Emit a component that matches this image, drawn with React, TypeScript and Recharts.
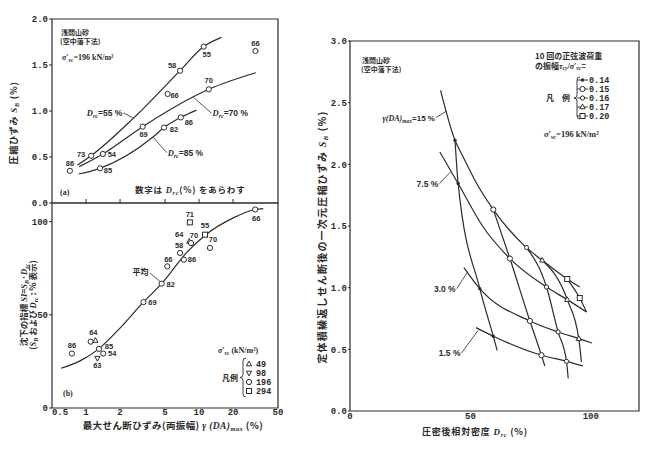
import React from 'react';
import { ComposedChart, Line, Scatter, XAxis, YAxis, ReferenceArea, ReferenceLine, ReferenceDot } from 'recharts';

const INK = '#2b2b2b';
const NUM = '"Liberation Mono", "DejaVu Sans Mono", monospace';
const SANS = '"Liberation Sans", "DejaVu Sans", sans-serif';
const SERIF = '"Liberation Serif", "DejaVu Serif", serif';
const JP = '"Noto Sans CJK JP", "Noto Sans", sans-serif';

// ================= Panel (a): S_B vs gamma(DA)max =================
const aGamma = [0.72, 1.11, 1.41, 1.33, 3.17, 5.27, 4.9, 6.9, 6.8, 11.0, 12.2, 31.6];
const aSb = [0.35, 0.514, 0.533, 0.377, 0.83, 1.185, 0.82, 0.93, 1.438, 1.7, 1.236, 1.652];
const aDrc = [86, 73, 54, 85, 69, 66, 82, 86, 58, 55, 70, 66];
const aLabelOffset = [[0, -8], [-10, -1], [9, 0], [8, 2], [1, 8], [7, 1], [10, 2], [8, 5], [-8, -5], [3, 8], [0, -9], [0, -8]];

const aCurveDrc = [55, 70, 85];
const aCurve55X = [0.84, 1.11, 2.62, 6.8, 11.0, 15.8];
const aCurve55Y = [0.413, 0.514, 0.92, 1.438, 1.7, 1.8];
const aCurve70X = [0.87, 1.41, 3.17, 8.9, 12.2, 31.8];
const aCurve70Y = [0.395, 0.533, 0.83, 1.155, 1.236, 1.416];
const aCurve85X = [0.86, 1.33, 3.94, 4.9, 6.9, 9.5];
const aCurve85Y = [0.315, 0.377, 0.72, 0.82, 0.93, 1.01];
const aLeaderFromX = [2.14, 12.9, 5.17];
const aLeaderFromY = [0.98, 0.975, 0.547];
const aLeaderToX = [2.65, 8.9, 3.94];
const aLeaderToY = [0.92, 1.15, 0.714];
const aLabelSide = ['end', 'start', 'start'];
const aYTicks = [0, 0.5, 1, 1.5, 2];

const gammaTicks = [0.5, 1, 2, 5, 10, 20, 50];
const gammaInnerTicks = [1, 2, 5, 10, 20];

// ================= Panel (b): SI vs gamma(DA)max =================
const bGamma = [0.75, 1.1, 1.21, 1.3, 1.42, 1.26, 3.22, 4.67, 5.24, 6.8, 7.35, 8.2, 8.5, 8.3, 11.3, 12.5, 31.4];
const bSI = [29.2, 35.6, 36.2, 31.7, 29.2, 26.7, 56.8, 66.7, 76, 83.2, 79.6, 89.4, 88.5, 99.6, 93, 85.9, 106.5];
const bDrc = [86, null, 64, 85, 54, 63, 69, 82, 66, 58, 86, 64, 70, 71, 55, 70, 66];
const bStress = [196, 196, 49, 196, 196, 98, 196, 196, 196, 196, 196, 49, 196, 294, 294, 196, 196];
const bLabelOffset = [[0, -8], [0, 0], [-2, -8], [10, -3], [9, 0], [0, 7], [9, 0], [9, 1], [1, -7], [-1, -8], [8, 0], [-10, -7], [3, -8], [0, -8], [0, -9], [3, -9], [1, 9]];
const bAvgX = [0.6, 0.885, 1.29, 1.93, 3.22, 4.67, 7.8, 11.5, 20.1, 31.4, 37];
const bAvgY = [21.3, 25.3, 31.6, 41.9, 56.8, 66.7, 83.5, 93, 102, 106.5, 107];
const bAvgLeader = [3.68, 72.4, 4.51, 67.9];
const bLegendStress = [49, 98, 196, 294];
const bLegendKinds = ['triangle', 'triangleDown', 'circle', 'square'];
const bYTicks = [0, 50, 100];

// ================= Right panel: S_B vs Drc =================
const rGammaLevels = ['15', '7.5', '3.0', '1.5'];
const rG15X = [37.6, 43.6, 47.0, 52.6, 59.5, 73.3, 79.8, 90.2, 95.4];
const rG15Y = [2.6, 2.195, 2.06, 1.844, 1.633, 1.325, 1.222, 1.07, 1.005];
const rG75X = [37.3, 44.9, 55.3, 66.4, 81.6, 90.2, 98.2];
const rG75Y = [2.1, 1.844, 1.492, 1.236, 1.005, 0.903, 0.803];
const rG30X = [47.3, 53.9, 74.7, 86.4, 95.0, 100.5];
const rG30Y = [1.163, 0.992, 0.73, 0.641, 0.587, 0.551];
const rG15pX = [52.3, 59.5, 79.5, 89.9, 96.8];
const rG15pY = [0.676, 0.606, 0.452, 0.403, 0.365];
const rLeaderFromX = [35.7, 37.1, 44.3, 46.3];
const rLeaderFromY = [2.379, 1.844, 0.992, 0.47];
const rLeaderToX = [40.1, 41.8, 48.6, 53.2];
const rLeaderToY = [2.432, 1.94, 1.12, 0.654];

const rAmpLevels = ['0.14', '0.15', '0.16', '0.17', '0.20'];
const rAmp014X = [43.6, 44.9, 53.9, 59.5];
const rAmp014Y = [2.195, 1.844, 0.992, 0.606];
const rAmp015X = [59.5, 66.4, 74.7, 79.5];
const rAmp015Y = [1.633, 1.236, 0.73, 0.452];
const rAmp016X = [73.3, 81.6, 86.4, 89.9];
const rAmp016Y = [1.325, 1.005, 0.641, 0.403];
const rAmp017X = [79.8, 90.2, 95.0];
const rAmp017Y = [1.222, 0.903, 0.587];
const rAmp020X = [90.2, 95.4];
const rAmp020Y = [1.07, 0.916];
const rAmpEndX = [61.1, 80.9, 90.6, 96.1, 98.2];
const rAmpEndY = [0.492, 0.365, 0.263, 0.397, 0.803];
const rAmpKinds = ['dot', 'circle', 'smallCircle', 'triangle', 'square'];
const rXTicks = [0, 50, 100];
const rYTicks = [0, 0.5, 1, 1.5, 2, 2.5, 3];

const toRows = (xs: number[], ys: number[]) => xs.map((x, i) => ({ x, y: ys[i], i }));

function Mk({ kind, cx, cy }: any) {
  const sw = 1;
  if (kind === 'dot') return <circle cx={cx} cy={cy} r={1.7} fill={INK} />;
  if (kind === 'circle') return <circle cx={cx} cy={cy} r={2.6} fill="#fff" stroke={INK} strokeWidth={sw} />;
  if (kind === 'smallCircle') return <circle cx={cx} cy={cy} r={2.1} fill="#fff" stroke={INK} strokeWidth={sw} />;
  if (kind === 'triangle')
    return <polygon points={`${cx},${cy - 2.9} ${cx - 2.6},${cy + 1.8} ${cx + 2.6},${cy + 1.8}`} fill="#fff" stroke={INK} strokeWidth={sw} />;
  if (kind === 'triangleDown')
    return <polygon points={`${cx},${cy + 2.9} ${cx - 2.6},${cy - 1.8} ${cx + 2.6},${cy - 1.8}`} fill="#fff" stroke={INK} strokeWidth={sw} />;
  return <rect x={cx - 2.5} y={cy - 2.5} width={5} height={5} fill="#fff" stroke={INK} strokeWidth={sw} />;
}

const ptText = { fontFamily: SANS, fontSize: 7.5, fontWeight: 700, fill: INK } as any;
const tickStyle = { fontFamily: NUM, fontSize: 9, fill: INK, fontWeight: 700 } as any;

// x tick of panel (b): the first label sits a little right of the corner, as in the original
function BXTick({ x, y, payload }: any) {
  const shift = payload.value === gammaTicks[0] ? 8 : 0;
  return (
    <text x={x + shift} y={y + 6} textAnchor="middle" {...tickStyle}>{String(payload.value)}</text>
  );
}

function DLabel({ cx, cy, anchor, drc }: any) {
  const dx = anchor === 'end' ? -1 : 1;
  return (
    <text x={cx + dx} y={cy + 3} textAnchor={anchor} fontFamily={SANS} fontSize={8.5} fontWeight={700} fill={INK}>
      <tspan fontFamily={SERIF} fontStyle="italic">D</tspan>
      <tspan fontFamily={SERIF} fontStyle="italic" fontSize={6} dy={2}>rc</tspan>
      <tspan dy={-2}>{`=${drc} %`}</tspan>
    </text>
  );
}

function PanelA() {
  const pts = toRows(aGamma, aSb);
  const curves = [toRows(aCurve55X, aCurve55Y), toRows(aCurve70X, aCurve70Y), toRows(aCurve85X, aCurve85Y)];
  return (
    <ComposedChart width={300} height={212} margin={{ top: 19, right: 22, bottom: 9, left: 18 }}>
      <XAxis dataKey="x" type="number" scale="log" domain={[0.5, 50]} allowDataOverflow ticks={gammaInnerTicks}
        mirror tickFormatter={() => ''} tickSize={4} axisLine={false} stroke={INK} />
      <YAxis dataKey="y" type="number" domain={[0, 2]} allowDataOverflow ticks={aYTicks} width={34} tickSize={3}
        tickMargin={1} axisLine={false} stroke={INK} tickFormatter={(v: number) => v.toFixed(1)} tick={tickStyle} />
      <ReferenceArea x1={0.5} x2={50} y1={0} y2={2} fill="none" fillOpacity={0} stroke={INK} strokeWidth={1.2} strokeOpacity={1} />
      {curves.map((c, k) => (
        <Line key={'c' + k} data={c} dataKey="y" type="monotone" dot={false} activeDot={false} stroke={INK} strokeWidth={1.2} isAnimationActive={false} />
      ))}
      {aLeaderFromX.map((x, k) => (
        <ReferenceLine key={'l' + k} segment={[{ x, y: aLeaderFromY[k] }, { x: aLeaderToX[k], y: aLeaderToY[k] }]} stroke={INK} strokeWidth={0.8} />
      ))}
      {aLeaderFromX.map((x, k) => (
        <ReferenceDot key={'t' + k} x={x} y={aLeaderFromY[k]} r={0}
          shape={(p: any) => <DLabel cx={p.cx} cy={p.cy} anchor={aLabelSide[k]} drc={aCurveDrc[k]} />} />
      ))}
      <Scatter data={pts} dataKey="y" isAnimationActive={false}
        shape={(p: any) => {
          const i = p.payload.i;
          return (
            <g>
              <Mk kind="circle" cx={p.cx} cy={p.cy} />
              <text x={p.cx + aLabelOffset[i][0]} y={p.cy + aLabelOffset[i][1] + 2.7} textAnchor="middle" {...ptText}>{aDrc[i]}</text>
            </g>
          );
        }} />
    </ComposedChart>
  );
}

function PanelB() {
  const pts = toRows(bGamma, bSI);
  const avg = toRows(bAvgX, bAvgY);
  const kindOf = (s: number) => bLegendKinds[bLegendStress.indexOf(s)];
  return (
    <ComposedChart width={300} height={254} margin={{ top: 8, right: 22, bottom: 23, left: 18 }}>
      <XAxis dataKey="x" type="number" scale="log" domain={[0.5, 50]} allowDataOverflow ticks={gammaTicks} height={18}
        tickLine={false} tickSize={0} tickMargin={1} axisLine={false} tick={<BXTick />} />
      <YAxis dataKey="y" type="number" domain={[0, 110]} allowDataOverflow ticks={bYTicks} width={34} tickSize={3}
        tickMargin={1} axisLine={false} stroke={INK} tick={tickStyle} />
      <ReferenceArea x1={0.5} x2={50} y1={0} y2={110} fill="none" fillOpacity={0} stroke={INK} strokeWidth={1.2} strokeOpacity={1} />
      <Line data={avg} dataKey="y" type="monotone" dot={false} activeDot={false} stroke={INK} strokeWidth={1.2} isAnimationActive={false} />
      <ReferenceLine segment={[{ x: bAvgLeader[0], y: bAvgLeader[1] }, { x: bAvgLeader[2], y: bAvgLeader[3] }]} stroke={INK} strokeWidth={0.8} />
      <ReferenceDot x={bAvgLeader[0]} y={bAvgLeader[1]} r={0}
        shape={(p: any) => (
          <text x={p.cx - 1.5} y={p.cy + 2} textAnchor="end" fontFamily={JP} fontSize={8} fontWeight={700} fill={INK}>平均</text>
        )} />
      <Scatter data={pts} dataKey="y" isAnimationActive={false}
        shape={(p: any) => {
          const i = p.payload.i;
          return (
            <g>
              <Mk kind={kindOf(bStress[i])} cx={p.cx} cy={p.cy} />
              {bDrc[i] != null && (
                <text x={p.cx + bLabelOffset[i][0]} y={p.cy + bLabelOffset[i][1] + 2.7} textAnchor="middle" {...ptText}>{bDrc[i]}</text>
              )}
            </g>
          );
        }} />
    </ComposedChart>
  );
}

function GammaLabel({ cx, cy, k }: any) {
  if (k === 0) {
    return (
      <text x={cx - 1} y={cy + 3} textAnchor="end" fontFamily={SANS} fontSize={8} fontWeight={700} fill={INK}>
        <tspan fontFamily={SERIF} fontStyle="italic">γ(DA)</tspan>
        <tspan fontFamily={SERIF} fontStyle="italic" fontSize={5.5} dy={2}>max</tspan>
        <tspan dy={-2}>{`=${rGammaLevels[k]} %`}</tspan>
      </text>
    );
  }
  return (
    <text x={cx - 1} y={cy + 3} textAnchor="end" fontFamily={SANS} fontSize={8.5} fontWeight={700} fill={INK}>
      {`${rGammaLevels[k]} %`}
    </text>
  );
}

function PanelR() {
  const gammaCurves = [toRows(rG15X, rG15Y), toRows(rG75X, rG75Y), toRows(rG30X, rG30Y), toRows(rG15pX, rG15pY)];
  const ampX = [rAmp014X, rAmp015X, rAmp016X, rAmp017X, rAmp020X];
  const ampY = [rAmp014Y, rAmp015Y, rAmp016Y, rAmp017Y, rAmp020Y];
  const ampMarks = ampX.map((xs, k) => toRows(xs, ampY[k]));
  const ampLines = ampX.map((xs, k) => toRows([...xs, rAmpEndX[k]], [...ampY[k], rAmpEndY[k]]));
  return (
    <ComposedChart width={348} height={429} margin={{ top: 21, right: 9, bottom: 20, left: 20 }}>
      <XAxis dataKey="x" type="number" domain={[0, 120]} allowDataOverflow ticks={rXTicks} height={18}
        tickLine={false} tickSize={0} tickMargin={2} axisLine={false} stroke={INK} tick={tickStyle} />
      <YAxis dataKey="y" type="number" domain={[0, 3]} allowDataOverflow ticks={rYTicks} width={30} tickSize={2}
        tickMargin={1} axisLine={false} stroke={INK} tick={tickStyle} tickFormatter={(v: number) => v.toFixed(1)} />
      <ReferenceArea x1={0} x2={120} y1={0} y2={3} fill="none" fillOpacity={0} stroke={INK} strokeWidth={1.2} strokeOpacity={1} />
      {gammaCurves.map((c, k) => (
        <Line key={'g' + k} data={c} dataKey="y" type="monotone" dot={false} activeDot={false} stroke={INK} strokeWidth={1.2} isAnimationActive={false} />
      ))}
      {ampLines.map((c, k) => (
        <Line key={'a' + k} data={c} dataKey="y" type="monotone" dot={false} activeDot={false} stroke={INK} strokeWidth={1.2} isAnimationActive={false} />
      ))}
      {rLeaderFromX.map((x, k) => (
        <ReferenceLine key={'rl' + k} segment={[{ x, y: rLeaderFromY[k] }, { x: rLeaderToX[k], y: rLeaderToY[k] }]} stroke={INK} strokeWidth={0.8} />
      ))}
      {rLeaderFromX.map((x, k) => (
        <ReferenceDot key={'rt' + k} x={x} y={rLeaderFromY[k]} r={0} shape={(p: any) => <GammaLabel cx={p.cx} cy={p.cy} k={k} />} />
      ))}
      {ampMarks.map((m, k) => (
        <Scatter key={'m' + k} data={m} dataKey="y" isAnimationActive={false}
          shape={(p: any) => <Mk kind={rAmpKinds[k]} cx={p.cx} cy={p.cy} />} />
      ))}
    </ComposedChart>
  );
}

function Brace({ x, y1, y2 }: any) {
  const m = (y1 + y2) / 2;
  return (
    <path d={`M${x + 3},${y1} Q${x},${y1} ${x},${y1 + 3} L${x},${m - 3} Q${x},${m} ${x - 3},${m} Q${x},${m} ${x},${m + 3} L${x},${y2 - 3} Q${x},${y2} ${x + 3},${y2}`}
      fill="none" stroke={INK} strokeWidth={0.9} />
  );
}

function SigmaVc({ fs }: any) {
  return (
    <>
      <tspan fontFamily={SERIF} fontStyle="italic">σ′</tspan>
      <tspan fontFamily={SERIF} fontStyle="italic" fontSize={fs * 0.68} dy={2}>vc</tspan>
    </>
  );
}

function Overlay() {
  const jp = { fontFamily: JP, fill: INK, fontWeight: 700 } as any;
  const legY = [80, 89, 98, 107, 116];
  const bLegY = [364, 373, 382, 391];
  return (
    <svg width={648} height={449} style={{ position: 'absolute', left: 0, top: 0, pointerEvents: 'none' }}>
      {/* panel (a) */}
      <text x={61} y={35} fontSize={7} {...jp}>浅間山砂</text>
      <text x={60} y={44} fontSize={7} {...jp}>(空中落下法)</text>
      <text x={62} y={60} fontSize={8} fontFamily={SERIF} fill={INK} fontWeight={700}>
        <SigmaVc fs={8} />
        <tspan dy={-2}>=196 kN/m²</tspan>
      </text>
      <text x={60} y={195} fontSize={8} fontFamily={SERIF} fill={INK} fontWeight={700}>(a)</text>
      <text x={135} y={193} fontSize={8.5} letterSpacing={0.8} {...jp}>
        数字は <tspan fontFamily={SERIF} fontStyle="italic">D</tspan>
        <tspan fontFamily={SERIF} fontStyle="italic" fontSize={6} dy={2}>rc</tspan>
        <tspan dy={-2}>(%) をあらわす</tspan>
      </text>
      <text transform="translate(17,123) rotate(-90)" textAnchor="middle" fontSize={9} letterSpacing={0.8} {...jp}>
        圧縮ひずみ <tspan fontFamily={SERIF} fontStyle="italic">S</tspan>
        <tspan fontFamily={SERIF} fontStyle="italic" fontSize={6} dy={2}>B</tspan>
        <tspan dy={-2}> (%)</tspan>
      </text>

      {/* panel (b) */}
      <text x={63} y={396} fontSize={8} fontFamily={SERIF} fill={INK} fontWeight={700}>(b)</text>
      <text x={218} y={353} fontSize={8} fontFamily={SERIF} fill={INK} fontWeight={700}>
        <SigmaVc fs={8} />
        <tspan dy={-2}> (kN/m²)</tspan>
      </text>
      <text x={222} y={381} fontSize={8} {...jp}>凡例</text>
      <Brace x={243} y1={358} y2={397} />
      {bLegendStress.map((s, k) => (
        <g key={'bl' + k}>
          <Mk kind={bLegendKinds[k]} cx={249} cy={bLegY[k]} />
          <text x={256} y={bLegY[k] + 3} fontFamily={NUM} fontSize={8.5} fontWeight={700} fill={INK}>{s}</text>
        </g>
      ))}
      <text x={173} y={429} textAnchor="middle" fontSize={9.5} letterSpacing={0.4} {...jp}>
        最大せん断ひずみ(両振幅) <tspan fontFamily={SERIF} fontStyle="italic">γ (DA)</tspan>
        <tspan fontFamily={SERIF} fontStyle="italic" fontSize={6.5} dy={2}>max</tspan>
        <tspan dy={-2}> (%)</tspan>
      </text>
      <text transform="translate(27,305) rotate(-90)" textAnchor="middle" fontSize={8.5} {...jp}>
        沈下の指標 <tspan fontFamily={SERIF} fontStyle="italic">SI</tspan>=<tspan fontFamily={SERIF} fontStyle="italic">S</tspan>
        <tspan fontFamily={SERIF} fontStyle="italic" fontSize={6} dy={2}>B</tspan>
        <tspan dy={-2}>·</tspan><tspan fontFamily={SERIF} fontStyle="italic">D</tspan>
        <tspan fontFamily={SERIF} fontStyle="italic" fontSize={6} dy={2}>rc</tspan>
      </text>
      <text transform="translate(36,305) rotate(-90)" textAnchor="middle" fontSize={8.5} {...jp}>
        (<tspan fontFamily={SERIF} fontStyle="italic">S</tspan>
        <tspan fontFamily={SERIF} fontStyle="italic" fontSize={6} dy={2}>B</tspan>
        <tspan dy={-2}> および </tspan><tspan fontFamily={SERIF} fontStyle="italic">D</tspan>
        <tspan fontFamily={SERIF} fontStyle="italic" fontSize={6} dy={2}>rc</tspan>
        <tspan dy={-2}> : % 表示)</tspan>
      </text>

      {/* right panel */}
      <text x={362} y={63} fontSize={7} {...jp}>浅間山砂</text>
      <text x={361} y={72} fontSize={7} {...jp}>(空中落下法)</text>
      <text x={535} y={59} fontSize={8} {...jp}>10 回の正弦波荷重</text>
      <text x={535} y={68.5} fontSize={8} {...jp}>
        の振幅<tspan fontFamily={SERIF} fontStyle="italic">τ</tspan>
        <tspan fontFamily={SERIF} fontStyle="italic" fontSize={5.5} dy={1.5}>cy</tspan>
        <tspan dy={-1.5} fontFamily={SERIF}>/</tspan>
        <tspan fontFamily={SERIF} fontStyle="italic">σ′</tspan>
        <tspan fontFamily={SERIF} fontStyle="italic" fontSize={5.5} dy={1.5}>vc</tspan>
        <tspan dy={-1.5}>=</tspan>
      </text>
      <text x={546} y={101} fontSize={8} {...jp}>凡　例</text>
      <Brace x={577} y1={77} y2={119} />
      {rAmpLevels.map((lv, k) => (
        <g key={'rlg' + k}>
          <line x1={577} x2={588} y1={legY[k]} y2={legY[k]} stroke={INK} strokeWidth={0.9} />
          <Mk kind={rAmpKinds[k]} cx={582.5} cy={legY[k]} />
          <text x={589} y={legY[k] + 3} fontFamily={NUM} fontSize={8.5} fontWeight={700} fill={INK}>{lv}</text>
        </g>
      ))}
      <text x={544} y={137} fontSize={8.5} fontFamily={SERIF} fill={INK} fontWeight={700}>
        <SigmaVc fs={8.5} />
        <tspan dy={-2}>=196 kN/m²</tspan>
      </text>
      <text transform="translate(326,237) rotate(-90)" textAnchor="middle" fontSize={10} letterSpacing={1.2} {...jp}>
        定体積繰返しせん断後の一次元圧縮ひずみ <tspan fontFamily={SERIF} fontStyle="italic">S</tspan>
        <tspan fontFamily={SERIF} fontStyle="italic" fontSize={7} dy={2}>B</tspan>
        <tspan dy={-2}> (%)</tspan>
      </text>
      <text x={475} y={435} textAnchor="middle" fontSize={9} letterSpacing={0.8} {...jp}>
        圧密後相対密度 <tspan fontFamily={SERIF} fontStyle="italic">D</tspan>
        <tspan fontFamily={SERIF} fontStyle="italic" fontSize={6} dy={2}>rc</tspan>
        <tspan dy={-2}> (%)</tspan>
      </text>
    </svg>
  );
}

export default function App() {
  return (
    <div style={{ position: 'absolute', left: 0, top: 0, width: 648, height: 449, background: '#fff', overflow: 'hidden' }}>
      <div style={{ position: 'absolute', left: 0, top: 0 }}><PanelA /></div>
      <div style={{ position: 'absolute', left: 0, top: 195 }}><PanelB /></div>
      <div style={{ position: 'absolute', left: 300, top: 20 }}><PanelR /></div>
      <Overlay />
    </div>
  );
}
